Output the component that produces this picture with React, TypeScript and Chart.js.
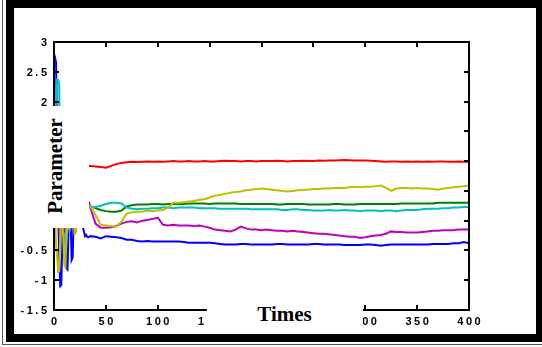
import { useEffect, useRef } from "react";
import { Chart, registerables } from "chart.js";

Chart.register(...registerables);

// Sample times: every step during the start-up transient, then every 5 steps.
const times = [
  0, 1, 2, 3, 4, 5, 6, 7, 8, 9, 10, 11, 12, 13, 14, 15, 16, 17, 18, 19, 20, 21, 22, 23, 24, 25, 26, 27, 28, 29, 30, 31, 32, 33, 34,
  35, 40, 45, 50, 55, 60, 65, 70, 75, 80, 85, 90, 95, 100, 105, 110, 115, 120, 125, 130,
  135, 140, 145, 150, 155, 160, 165, 170, 175, 180, 185, 190, 195, 200, 205, 210, 215, 220, 225, 230,
  235, 240, 245, 250, 255, 260, 265, 270, 275, 280, 285, 290, 295, 300, 305, 310, 315, 320, 325, 330,
  335, 340, 345, 350, 355, 360, 365, 370, 375, 380, 385, 390, 395, 400,
];

const blueParam = [
  2.70, 2.74, 2.66, 1.40, 0.20, -0.60, -1.10, -1.08, -0.40, 0.50, 0.30, -0.30, -0.80, -0.82, -0.20, 0.40, 0.10, -0.66, -0.62, 0.10,
  0.50, 0.30, 0.10, 0.30, 0.40, 0.20, 0.10, 0.00, -0.12, -0.20, -0.26, -0.24, -0.27, -0.28, -0.27,
  -0.26, -0.27, -0.30, -0.26, -0.27, -0.28, -0.29, -0.32, -0.32, -0.34, -0.35, -0.34, -0.35, -0.35, -0.35, -0.35, -0.35, -0.35, -0.36, -0.37,
  -0.37, -0.37, -0.37, -0.37, -0.38, -0.39, -0.40, -0.40, -0.40, -0.39, -0.39, -0.40, -0.40, -0.40, -0.40, -0.40, -0.39, -0.39, -0.40, -0.40,
  -0.40, -0.40, -0.40, -0.39, -0.39, -0.40, -0.40, -0.40, -0.40, -0.41, -0.41, -0.41, -0.41, -0.40, -0.40, -0.41, -0.42, -0.41, -0.40, -0.40,
  -0.40, -0.40, -0.40, -0.40, -0.40, -0.40, -0.39, -0.39, -0.39, -0.39, -0.38, -0.38, -0.36, -0.38,
];

const greenParam = [
  0.50, 1.20, 0.80, 0.30, 0.00, 0.40, 0.90, 0.60, 0.20, 0.10, 0.30, 0.50, 0.40, 0.25, 0.30, 0.35, 0.20, 0.30, 0.28, 0.25,
  0.30, 0.26, 0.22, 0.25, 0.28, 0.26, 0.24, 0.25, 0.26, 0.24, 0.25, 0.24, 0.25, 0.24, 0.24,
  0.24, 0.21, 0.18, 0.16, 0.15, 0.15, 0.17, 0.24, 0.26, 0.27, 0.27, 0.27, 0.28, 0.28, 0.27, 0.28, 0.28, 0.28, 0.28, 0.29,
  0.29, 0.29, 0.29, 0.28, 0.29, 0.29, 0.29, 0.29, 0.29, 0.28, 0.28, 0.28, 0.28, 0.28, 0.28, 0.28, 0.27, 0.27, 0.28, 0.28,
  0.28, 0.28, 0.27, 0.27, 0.27, 0.27, 0.27, 0.28, 0.28, 0.27, 0.27, 0.27, 0.28, 0.28, 0.28, 0.28, 0.28, 0.28, 0.28, 0.28,
  0.29, 0.29, 0.29, 0.29, 0.29, 0.29, 0.29, 0.30, 0.30, 0.30, 0.30, 0.30, 0.30, 0.30,
];

const redParam = [
  1.50, 1.80, 1.20, 0.60, 1.00, 1.40, 1.10, 0.80, 1.00, 1.20, 0.90, 1.00, 0.95, 1.05, 0.90, 0.95, 1.00, 0.92, 0.95, 0.94,
  0.93, 0.95, 0.92, 0.93, 0.94, 0.92, 0.93, 0.92, 0.93, 0.92, 0.92, 0.93, 0.92, 0.92, 0.92,
  0.92, 0.91, 0.90, 0.89, 0.92, 0.95, 0.97, 0.98, 0.99, 0.985, 0.99, 0.995, 0.99, 0.995, 0.99, 0.995, 1.0, 0.995, 0.995, 1.0,
  0.995, 0.995, 1.0, 0.995, 0.995, 1.0, 1.005, 1.0, 1.0, 0.995, 1.0, 1.0, 0.995, 1.0, 1.0, 1.0, 1.005, 1.0, 0.995, 1.0,
  1.0, 1.005, 1.0, 1.0, 1.01, 1.005, 1.01, 1.01, 1.015, 1.02, 1.015, 1.01, 1.01, 1.01, 1.005, 1.0, 0.995, 0.99, 0.995, 0.995,
  0.99, 0.995, 0.99, 0.995, 0.99, 0.995, 0.99, 0.995, 0.995, 0.99, 0.99, 0.995, 0.99, 0.99,
];

const cyanParam = [
  1.20, 1.60, 2.00, 2.37, 2.36, 2.30, 0.60, -0.10, -0.25, 0.30, -0.30, -0.32, 0.20, 0.50, 0.00, -0.20, 0.30, 0.60, 0.40, 0.30,
  0.10, 0.25, 0.35, 0.20, 0.30, 0.25, 0.20, 0.28, 0.30, 0.22, 0.20, 0.21, 0.20, 0.21, 0.22,
  0.22, 0.23, 0.25, 0.28, 0.30, 0.30, 0.29, 0.22, 0.20, 0.19, 0.20, 0.20, 0.21, 0.21, 0.22, 0.22, 0.21, 0.22, 0.22, 0.22,
  0.22, 0.21, 0.21, 0.21, 0.21, 0.20, 0.20, 0.20, 0.20, 0.20, 0.20, 0.19, 0.19, 0.19, 0.19, 0.19, 0.19, 0.18, 0.18, 0.19,
  0.19, 0.18, 0.18, 0.17, 0.17, 0.17, 0.18, 0.17, 0.17, 0.18, 0.17, 0.17, 0.16, 0.17, 0.17, 0.17, 0.16, 0.17, 0.17, 0.16,
  0.17, 0.18, 0.18, 0.18, 0.19, 0.20, 0.20, 0.20, 0.21, 0.21, 0.22, 0.22, 0.23, 0.23,
];

const magentaParam = [
  -0.30, -0.32, 0.50, 1.00, 0.30, -0.10, -0.30, 0.20, 0.60, 0.10, -0.20, 0.30, 0.70, 0.40, 0.20, -0.15, 0.10, 0.50, 0.40, 0.30,
  0.20, -0.18, 0.10, 0.40, 0.50, 0.45, 0.35, 0.30, 0.40, 0.35, 0.30, 0.32, 0.35, 0.33, 0.30,
  0.22, -0.05, -0.12, -0.12, -0.11, -0.09, -0.05, -0.02, -0.01, -0.03, 0.00, 0.01, 0.03, 0.05, -0.07, -0.08, -0.07, -0.08, -0.08, -0.08,
  -0.09, -0.08, -0.10, -0.12, -0.15, -0.16, -0.17, -0.18, -0.15, -0.10, -0.13, -0.15, -0.15, -0.16, -0.15, -0.16, -0.17, -0.17, -0.18, -0.17,
  -0.18, -0.19, -0.20, -0.21, -0.22, -0.22, -0.23, -0.24, -0.25, -0.26, -0.27, -0.27, -0.29, -0.28, -0.26, -0.25, -0.24, -0.22, -0.18, -0.19,
  -0.19, -0.20, -0.20, -0.20, -0.19, -0.18, -0.17, -0.17, -0.16, -0.16, -0.16, -0.15, -0.15, -0.15,
];

const yellowParam = [
  0.50, -0.10, -0.40, -0.60, -0.86, -0.85, -0.30, 0.40, 0.00, -0.30, -0.75, -0.78, -0.20, 0.30, 0.10, -0.15, 0.20, 0.50, 0.20, -0.05,
  -0.22, -0.20, 0.10, 0.30, 0.20, 0.25, 0.30, 0.28, 0.22, 0.25, 0.26, 0.24, 0.25, 0.24, 0.24,
  0.24, 0.10, -0.07, -0.08, -0.09, -0.10, -0.02, 0.12, 0.14, 0.15, 0.15, 0.17, 0.16, 0.17, 0.18, 0.22, 0.30, 0.30, 0.31, 0.32,
  0.33, 0.35, 0.36, 0.39, 0.42, 0.43, 0.45, 0.47, 0.48, 0.49, 0.51, 0.52, 0.53, 0.54, 0.53, 0.52, 0.51, 0.50, 0.49, 0.50,
  0.51, 0.52, 0.52, 0.53, 0.53, 0.54, 0.54, 0.55, 0.55, 0.55, 0.56, 0.57, 0.56, 0.57, 0.57, 0.58, 0.59, 0.55, 0.50, 0.54,
  0.55, 0.55, 0.54, 0.55, 0.54, 0.54, 0.53, 0.52, 0.54, 0.55, 0.56, 0.57, 0.58, 0.59,
];

// Drawn first-to-last on top: the yellow trace ends up uppermost.
const seriesList = [
  { values: yellowParam, color: "rgb(191,191,0)" },
  { values: magentaParam, color: "rgb(191,0,191)" },
  { values: cyanParam, color: "rgb(0,191,191)" },
  { values: redParam, color: "rgb(255,0,0)" },
  { values: greenParam, color: "rgb(0,128,0)" },
  { values: blueParam, color: "rgb(0,0,255)" },
];

const xTickStep = 50;
const yTickStep = 0.5;

const TICK_FONT = 'bold 11px "Liberation Sans", Arial, sans-serif';
const LETTER_GAP = 2.5;

const tickText = (v: number) => String(Number(v.toFixed(2)));

// Draws a string glyph by glyph with extra tracking between characters.
function spacedText(ctx: CanvasRenderingContext2D, text: string, x: number, y: number, align: "center" | "right") {
  const chars = Array.from(text);
  const widths = chars.map((c) => ctx.measureText(c).width);
  const total = widths.reduce((a, b) => a + b, 0) + LETTER_GAP * (widths.length - 1);
  let cx = align === "center" ? x - total / 2 : x - total;
  chars.forEach((c, i) => {
    ctx.fillText(c, cx, y);
    cx += widths[i] + LETTER_GAP;
  });
}

// Boxed axes with short inward tick marks on all four sides, plus tracked tick labels.
const boxedAxes = {
  id: "boxedAxes",
  afterDatasetsDraw(chart: any) {
    const { ctx, chartArea: a, scales } = chart;
    const xs = scales.x;
    const ys = scales.y;
    ctx.save();
    ctx.strokeStyle = "#000";
    ctx.lineWidth = 2;
    ctx.strokeRect(a.left, a.top, a.right - a.left, a.bottom - a.top);
    ctx.beginPath();
    const len = 5;
    xs.ticks.forEach((t: any) => {
      const px = Math.round(xs.getPixelForValue(t.value));
      ctx.moveTo(px, a.bottom);
      ctx.lineTo(px, a.bottom - len);
      ctx.moveTo(px, a.top);
      ctx.lineTo(px, a.top + len);
    });
    ys.ticks.forEach((t: any) => {
      const py = Math.round(ys.getPixelForValue(t.value));
      ctx.moveTo(a.left, py);
      ctx.lineTo(a.left + len, py);
      ctx.moveTo(a.right, py);
      ctx.lineTo(a.right - len, py);
    });
    ctx.stroke();

    ctx.fillStyle = "#000";
    ctx.font = TICK_FONT;
    ctx.textAlign = "left";
    ctx.textBaseline = "alphabetic";
    xs.ticks.forEach((t: any) => {
      spacedText(ctx, tickText(t.value), xs.getPixelForValue(t.value), a.bottom + 15, "center");
    });
    ys.ticks.forEach((t: any) => {
      spacedText(ctx, tickText(t.value), a.left - 7, ys.getPixelForValue(t.value) + 4, "right");
    });
    ctx.restore();
  },
};

const titleFont = 'bold 21px "Liberation Serif", "Times New Roman", serif';

export default function App() {
  const canvasRef = useRef<HTMLCanvasElement>(null);

  useEffect(() => {
    const canvas = canvasRef.current;
    if (!canvas) return;
    const chart = new Chart(canvas, {
      type: "line",
      data: {
        datasets: seriesList.map((s) => ({
          data: times.map((t, i) => ({ x: t, y: s.values[i] })),
          borderColor: s.color,
          borderWidth: 2,
          pointRadius: 0,
          fill: false,
          tension: 0,
        })),
      },
      options: {
        animation: false,
        responsive: false,
        devicePixelRatio: 1,
        layout: { padding: { left: 0, top: 42, right: 73, bottom: 0 } },
        plugins: { legend: { display: false }, tooltip: { enabled: false } },
        scales: {
          x: {
            type: "linear",
            min: 0,
            max: 400,
            grid: { display: false },
            border: { display: false },
            ticks: { stepSize: xTickStep, autoSkip: false, display: false },
            afterFit: (s: any) => {
              s.height = 37;
            },
          },
          y: {
            type: "linear",
            min: -1.5,
            max: 3,
            grid: { display: false },
            border: { display: false },
            ticks: { stepSize: yTickStep, autoSkip: false, display: false },
            afterFit: (s: any) => {
              s.width = 54;
            },
          },
        },
      },
      plugins: [boxedAxes],
    });
    return () => chart.destroy();
  }, []);

  return (
    <div
      style={{
        position: "fixed",
        left: 0,
        top: 0,
        width: 542,
        height: 347,
        overflow: "hidden",
        background: "#fff",
      }}
    >
      <canvas
        ref={canvasRef}
        width={542}
        height={347}
        style={{ position: "absolute", left: 0, top: 0, width: 542, height: 347 }}
      />
      {/* y-axis title on its white panel */}
      <div style={{ position: "absolute", left: 16, top: 106, width: 73, height: 122, background: "#fff" }} />
      <div
        style={{
          position: "absolute",
          left: 55,
          top: 165.5,
          transform: "translate(-50%, -50%) rotate(-90deg)",
          font: titleFont,
          whiteSpace: "nowrap",
          color: "#000",
        }}
      >
        Parameter
      </div>
      {/* x-axis title on its white panel */}
      <div style={{ position: "absolute", left: 207, top: 300, width: 156, height: 32, background: "#fff" }} />
      <div
        style={{
          position: "absolute",
          left: 284.5,
          top: 314,
          transform: "translate(-50%, -50%)",
          font: titleFont,
          whiteSpace: "nowrap",
          color: "#000",
        }}
      >
        Times
      </div>
      {/* outer frame */}
      <div style={{ position: "absolute", left: 2, top: -5, right: -5, bottom: 2, border: "1px solid #555" }} />
      <div
        style={{
          position: "absolute",
          left: 6,
          top: 0,
          right: -2,
          bottom: 5,
          border: "8px solid #000",
        }}
      />
    </div>
  );
}
